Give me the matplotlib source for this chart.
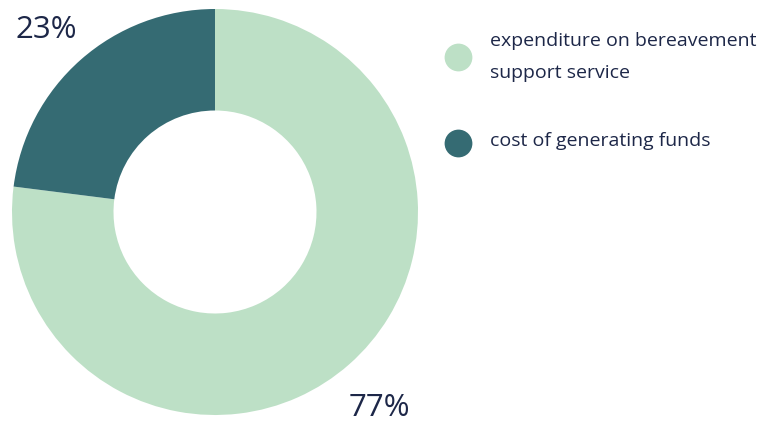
import matplotlib
matplotlib.use("Agg")
import matplotlib.pyplot as plt
from matplotlib.lines import Line2D

categories = ["expenditure on bereavement\nsupport service", "cost of generating funds"]
values = [77, 23]
pct_labels = ["77%", "23%"]
colors = ["#bde0c6", "#356b73"]
text_color = "#1d2748"

W, H = 757, 425
fig = plt.figure(figsize=(W / 100, H / 100), dpi=100)
fig.patch.set_facecolor("white")

cx, cy, r = 215, 212, 203
ax = fig.add_axes([(cx - r) / W, (H - cy - r) / H, 2 * r / W, 2 * r / H])
ax.pie(values, colors=colors, startangle=90, counterclock=False, radius=1.0,
       wedgeprops=dict(width=0.5, linewidth=0))
ax.set_xlim(-1, 1)
ax.set_ylim(-1, 1)
ax.set_aspect("equal")
ax.axis("off")

font = "Open Sans"
label_pos = [(0.81, -0.966), (-0.83, 0.897)]
for lab, (x, y) in zip(pct_labels, label_pos):
    ax.text(x, y, lab, ha="center", va="center", fontsize=22.5, color=text_color,
            family=font, clip_on=False)

# legend
marker_y = [57, 143]
text_y = [57, 141]
for cat, col, my, ty in zip(categories, colors, marker_y, text_y):
    fig.add_artist(Line2D([458 / W], [1 - my / H], marker="o", markersize=20,
                          markerfacecolor=col, markeredgewidth=0, linestyle="none",
                          transform=fig.transFigure))
    fig.text(490 / W, 1 - ty / H, cat, ha="left", va="center", fontsize=14,
             color=text_color, family=font, weight="medium", linespacing=1.95)

fig.savefig("out.png", dpi=100)
